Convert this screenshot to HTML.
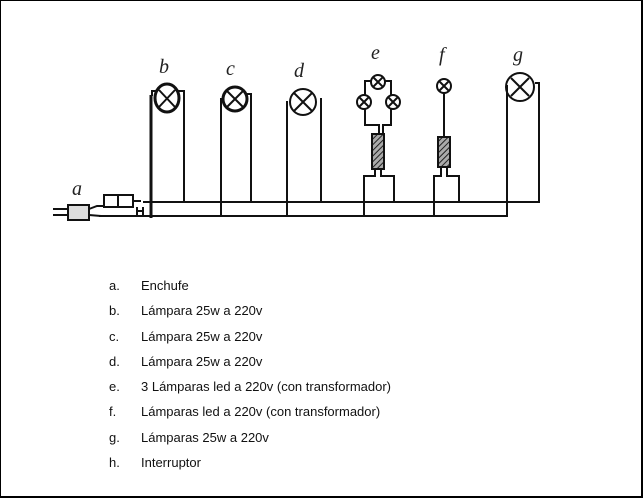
<!DOCTYPE html>
<html><head><meta charset="utf-8"><style>
html,body{margin:0;padding:0;background:#fff}
.f{position:relative;width:643px;height:498px;box-sizing:border-box;border:1px solid #000;border-right:2px solid #000;border-bottom:2px solid #000;overflow:hidden}
svg{position:absolute;left:0;top:0}
.l{position:absolute;font:13px "Liberation Sans",Arial,sans-serif;color:#111}
</style></head><body><div class="f">
<svg width="643" height="498" viewBox="0 0 643 498">
<defs><pattern id="h" width="4" height="4" patternUnits="userSpaceOnUse" patternTransform="rotate(45)"><rect width="4" height="4" fill="#aaa"/><line x1="0" y1="0" x2="0" y2="4" stroke="#222" stroke-width="2"/></pattern></defs>
<g stroke="#111" stroke-width="2" fill="none">
<!-- main wires -->
<line x1="142" y1="201" x2="539" y2="201"/>
<line x1="98" y1="215" x2="507" y2="215"/>
<line x1="150" y1="94" x2="150" y2="217" stroke-width="3"/>
<!-- plug -->
<line x1="52" y1="208" x2="67" y2="208"/><line x1="52" y1="214" x2="67" y2="214"/>
<rect x="67" y="204" width="21" height="15" fill="#ddd"/>
<path d="M88 208 L96 205 L103 205 M88 214 L100 215"/>
<rect x="103" y="194" width="29" height="12"/><line x1="117" y1="194" x2="117" y2="206"/>
<path d="M132 200 L140 200 M136 206 L136 215 M142 206 L142 215 M136 210 L142 210"/>
<!-- b -->
<ellipse cx="166" cy="97" rx="12" ry="14" stroke-width="3"/><path d="M158 89 L174 106 M174 89 L158 106"/>
<path d="M151 95 L151 90 L155 90 M177 90 L183 90 L183 201"/>
<!-- c -->
<circle cx="234" cy="98" r="12" stroke-width="3"/><path d="M226 90 L242 106 M242 90 L226 106"/>
<path d="M220 97 L220 215 M246 93 L250 93 L250 201"/>
<!-- d -->
<circle cx="302" cy="101" r="13"/><path d="M293 92 L311 110 M311 92 L293 110"/>
<path d="M286 100 L286 215 M320 97 L320 201"/>
<!-- e -->
<circle cx="377" cy="81" r="7"/><path d="M372 76 L382 86 M382 76 L372 86"/>
<circle cx="363" cy="101" r="7"/><path d="M358 96 L368 106 M368 96 L358 106"/>
<circle cx="392" cy="101" r="7"/><path d="M387 96 L397 106 M397 96 L387 106"/>
<path d="M370 80 L364 80 L364 94 M384 80 L390 80 L390 94 M364 108 L364 124 L378 124 L378 133 M390 108 L390 124 L382 124 L382 133"/>
<rect x="371" y="133" width="12" height="35" fill="url(#h)"/>
<path d="M374 168 L374 175 L363 175 L363 215 M380 168 L380 175 L393 175 L393 201"/>
<!-- f -->
<circle cx="443" cy="85" r="7"/><path d="M438 80 L448 90 M448 80 L438 90"/>
<line x1="443" y1="92" x2="443" y2="136"/>
<rect x="437" y="136" width="12" height="30" fill="url(#h)"/>
<path d="M440 166 L440 175 L433 175 L433 215 M446 166 L446 175 L458 175 L458 201"/>
<!-- g -->
<circle cx="519" cy="86" r="14"/><path d="M510 77 L528 95 M528 77 L510 95"/>
<path d="M506 84 L506 215 M534 82 L538 82 L538 201"/>
</g>
<g font-family="Liberation Serif, serif" font-style="italic" font-size="20" fill="#222">
<text x="71" y="194">a</text><text x="158" y="72">b</text><text x="225" y="74">c</text><text x="293" y="76">d</text>
<text x="370" y="58">e</text><text x="438" y="60">f</text><text x="512" y="60">g</text>
</g>
</svg>
<div class="l" style="left:108px;top:277px">a.</div><div class="l" style="left:140px;top:277px">Enchufe</div>
<div class="l" style="left:108px;top:302px">b.</div><div class="l" style="left:140px;top:302px">Lámpara 25w a 220v</div>
<div class="l" style="left:108px;top:328px">c.</div><div class="l" style="left:140px;top:328px">Lámpara 25w a 220v</div>
<div class="l" style="left:108px;top:353px">d.</div><div class="l" style="left:140px;top:353px">Lámpara 25w a 220v</div>
<div class="l" style="left:108px;top:378px">e.</div><div class="l" style="left:140px;top:378px">3 Lámparas led a 220v (con transformador)</div>
<div class="l" style="left:108px;top:403px">f.</div><div class="l" style="left:140px;top:403px">Lámparas led a 220v (con transformador)</div>
<div class="l" style="left:108px;top:429px">g.</div><div class="l" style="left:140px;top:429px">Lámparas 25w a 220v</div>
<div class="l" style="left:108px;top:454px">h.</div><div class="l" style="left:140px;top:454px">Interruptor</div>
</div></body></html>
